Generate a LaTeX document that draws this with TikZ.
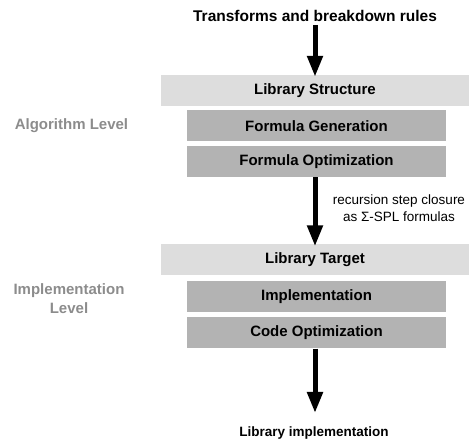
\documentclass[tikz,border=0pt]{standalone}
\usepackage{fontspec}
\setmainfont{Liberation Sans}
\usetikzlibrary{arrows.meta,calc}
\definecolor{lightbox}{HTML}{DDDDDD}
\definecolor{darkbox}{HTML}{B3B3B3}
\definecolor{levelgray}{HTML}{8C8C8C}
\tikzset{
  widebox/.style={fill=lightbox, draw=none, minimum width=308pt, minimum height=31pt, inner sep=0pt, font=\fontsize{15}{17}\selectfont\bfseries},
  stagebox/.style={fill=darkbox, draw=none, minimum width=259pt, minimum height=31pt, inner sep=0pt, font=\fontsize{15}{17}\selectfont\bfseries},
  endtext/.style={font=\fontsize{13.5}{15}\selectfont\bfseries, inner sep=1pt},
  toptext/.style={font=\fontsize{15.5}{17}\selectfont\bfseries, inner sep=1pt},
  leveltext/.style={text=levelgray, font=\fontsize{15}{19}\selectfont\bfseries, align=center, inner sep=0pt},
  flow/.style={line width=5pt, -{Triangle[width=15pt,length=21pt]}},
}
\begin{document}
\begin{tikzpicture}[x=1pt,y=-1pt]
\path[use as bounding box] (0,0) rectangle (469,443);
\node[toptext] (title) at (315,16) {Transforms and breakdown rules};
\node[widebox] (ls) at (315,90.5) {Library Structure};
\node[stagebox] (fg) at (316.5,126) {Formula Generation};
\node[stagebox] (fo) at (316.5,161.5) {Formula Optimization};
\node[widebox] (lt) at (315,260) {Library Target};
\node[stagebox] (im) at (316.5,297) {Implementation};
\node[stagebox] (co) at (316.5,333) {Code Optimization};
\node[endtext] (out) at (314,433) {Library implementation};
\node[leveltext] (alg) at (71.5,126) {Algorithm Level};
\node[leveltext] (impl) at (69,298.5) {Implementation\\Level};
\coordinate (a1s) at (ls.north |- 0,25);
\draw[flow] (a1s) -- ([yshift=-2pt]ls.north);
\draw[flow] (lt.north |- fo.south) -- ([yshift=-2pt]lt.north);
\coordinate (a3e) at (lt.north |- 0,413);
\draw[flow] (lt.north |- co.south) -- (a3e);
\node[font=\fontsize{13.5}{17}\selectfont, align=center, inner sep=0pt] (lbl) at (399,208.5) {recursion step closure\\as Σ-SPL formulas};
\end{tikzpicture}
\end{document}
